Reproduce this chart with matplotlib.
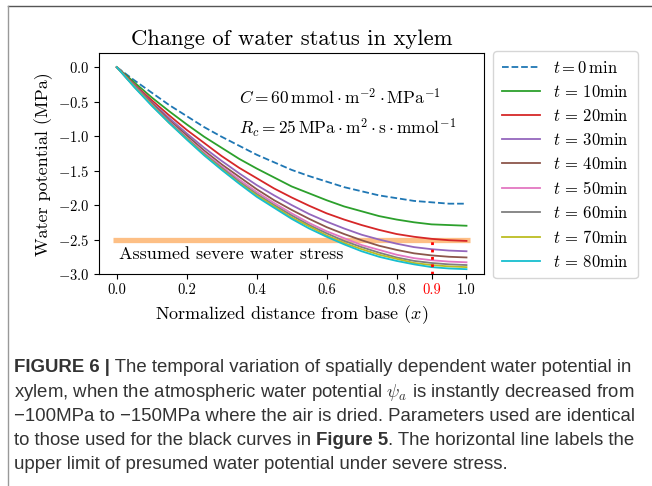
import matplotlib
matplotlib.use("Agg")
import matplotlib.pyplot as plt
from matplotlib.lines import Line2D

plt.rcParams['font.family'] = 'serif'
plt.rcParams['font.serif'] = ['cmr10']
plt.rcParams['mathtext.fontset'] = 'cm'
plt.rcParams['axes.formatter.use_mathtext'] = True

# data (x step 0.05)
x = [0.0, 0.05, 0.1, 0.15, 0.2, 0.25, 0.3, 0.35, 0.4, 0.45, 0.5,
     0.55, 0.6, 0.65, 0.7, 0.75, 0.8, 0.85, 0.9, 0.95, 1.0]
t_labels = [0, 10, 20, 30, 40, 50, 60, 70, 80]
psi = [
    [0, -0.19, -0.37, -0.55, -0.71, -0.87, -1.01, -1.14, -1.27, -1.38, -1.49,
     -1.58, -1.66, -1.74, -1.80, -1.86, -1.90, -1.94, -1.96, -1.98, -1.98],
    [0, -0.22, -0.44, -0.64, -0.83, -1.01, -1.17, -1.33, -1.47, -1.60, -1.73,
     -1.83, -1.93, -2.02, -2.09, -2.16, -2.21, -2.25, -2.28, -2.29, -2.30],
    [0, -0.25, -0.48, -0.70, -0.91, -1.10, -1.29, -1.46, -1.61, -1.76, -1.89,
     -2.01, -2.12, -2.21, -2.29, -2.36, -2.42, -2.46, -2.49, -2.51, -2.52],
    [0, -0.26, -0.51, -0.74, -0.96, -1.17, -1.36, -1.54, -1.71, -1.86, -2.00,
     -2.13, -2.24, -2.34, -2.43, -2.50, -2.56, -2.61, -2.64, -2.66, -2.67],
    [0, -0.27, -0.52, -0.77, -0.99, -1.21, -1.41, -1.59, -1.77, -1.93, -2.07,
     -2.20, -2.32, -2.42, -2.51, -2.59, -2.65, -2.70, -2.73, -2.75, -2.76],
    [0, -0.28, -0.54, -0.79, -1.02, -1.24, -1.44, -1.63, -1.81, -1.97, -2.12,
     -2.26, -2.38, -2.48, -2.58, -2.65, -2.72, -2.77, -2.80, -2.82, -2.83],
    [0, -0.28, -0.55, -0.80, -1.03, -1.26, -1.46, -1.66, -1.84, -2.00, -2.15,
     -2.29, -2.41, -2.52, -2.61, -2.69, -2.76, -2.81, -2.84, -2.86, -2.87],
    [0, -0.28, -0.55, -0.81, -1.04, -1.27, -1.48, -1.68, -1.86, -2.02, -2.18,
     -2.31, -2.44, -2.55, -2.64, -2.72, -2.78, -2.84, -2.87, -2.89, -2.90],
    [0, -0.29, -0.56, -0.81, -1.05, -1.28, -1.49, -1.69, -1.88, -2.04, -2.20,
     -2.34, -2.46, -2.57, -2.67, -2.75, -2.81, -2.86, -2.90, -2.92, -2.93],
]
stress_level = -2.5
x_mark = 0.9
xticks = [0.0, 0.2, 0.4, 0.6, 0.8, 0.9, 1.0]
yticks = [0.0, -0.5, -1.0, -1.5, -2.0, -2.5, -3.0]

colors = ['tab:blue', 'tab:green', 'tab:red', 'tab:purple', 'tab:brown',
          'tab:pink', 'tab:gray', 'tab:olive', 'tab:cyan']

fig = plt.figure(figsize=(6.52, 4.86), dpi=100)
ax = fig.add_axes([0.1523, 0.4362, 0.590, 0.454])

for i, (t, ys) in enumerate(zip(t_labels, psi)):
    if t == 0:
        lab = r'$t = 0\,\mathrm{min}$'
        ax.plot(x, ys, '--', color=colors[i], lw=1.3, label=lab)
    else:
        lab = r'$t\,=\,%d\mathrm{min}$' % t
        ax.plot(x, ys, '-', color=colors[i], lw=1.3, label=lab)

ax.plot([-0.01, 1.01], [stress_level, stress_level], color='#fdbf85', lw=3.8,
        solid_capstyle='butt', zorder=1)
ax.vlines(x_mark, -3.0, stress_level, colors='red', linestyles=':', lw=2)

ax.text(0.005, -2.71, 'Assumed severe water stress', fontsize=13, va='center')
ax.text(0.35, -0.43, r'$C = 60\,\mathrm{mmol}\cdot\mathrm{m}^{-2}\cdot\mathrm{MPa}^{-1}$',
        fontsize=12.5, va='center')
ax.text(0.35, -0.89, r'$R_c = 25\,\mathrm{MPa}\cdot\mathrm{m}^{2}\cdot\mathrm{s}\cdot\mathrm{mmol}^{-1}$',
        fontsize=12.5, va='center')

ax.set_xlim(-0.05, 1.05)
ax.set_ylim(-3.0, 0.2)
ax.set_xticks(xticks)
ax.set_xticklabels(['%.1f' % v for v in xticks])
ax.set_yticks(yticks)
for lab in ax.get_xticklabels():
    if lab.get_text() == '0.9':
        lab.set_color('red')
ax.tick_params(labelsize=10.5)
ax.set_title('Change of water status in xylem', fontsize=16.3)
ax.set_xlabel(r'Normalized distance from base $(x)$', fontsize=13)
ax.set_ylabel('Water potential (MPa)', fontsize=13)

fig.legend(loc='upper left', bbox_to_anchor=(0.744, 0.9115), fontsize=12,
           handlelength=2.3, labelspacing=0.48, borderpad=0.5)

# frame lines of the page
fig.add_artist(Line2D([8 / 652, 1], [1 - 6 / 486, 1 - 6 / 486], color='#555555', lw=1))
fig.add_artist(Line2D([8 / 652, 8 / 652], [0, 1 - 6 / 486], color='#999999', lw=1))

# caption
cap_kw = dict(family='Liberation Sans', fontsize=13.4, color='#333333')
x0 = 14 / 652
baselines = [372, 397, 421, 445, 469]


def line_at(row):
    return 1 - baselines[row] / 486


t1 = fig.text(x0, line_at(0), 'FIGURE 6 |', weight='bold', va='baseline', **cap_kw)
ax.annotate(' The temporal variation of spatially dependent water potential in',
            xy=(1, 0), xycoords=t1, va='bottom', annotation_clip=False, **cap_kw)
fig.text(x0, line_at(1), r'xylem, when the atmospheric water potential $\psi_a$ is instantly decreased from',
         va='baseline', **cap_kw)
fig.text(x0, line_at(2), '\u2212100MPa to \u2212150MPa where the air is dried. Parameters used are identical',
         va='baseline', **cap_kw)
t4 = fig.text(x0, line_at(3), 'to those used for the black curves in ', va='baseline', **cap_kw)
t5 = ax.annotate('Figure 5', xy=(1, 0), xycoords=t4, va='bottom', weight='bold',
                 annotation_clip=False, **cap_kw)
ax.annotate('. The horizontal line labels the', xy=(1, 0), xycoords=t5, va='bottom',
            annotation_clip=False, **cap_kw)
fig.text(x0, line_at(4), 'upper limit of presumed water potential under severe stress.',
         va='baseline', **cap_kw)

fig.savefig('out.png', dpi=100)
